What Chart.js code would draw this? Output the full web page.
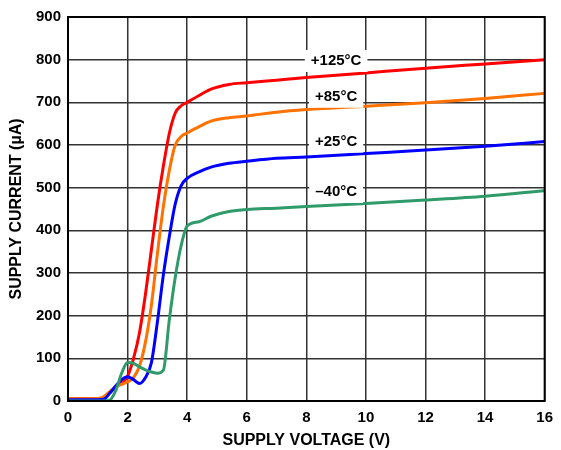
<!DOCTYPE html>
<html lang="en">
<head>
  <meta charset="UTF-8" />
  <title>Supply Current vs Supply Voltage</title>
  <script src="https://cdn.jsdelivr.net/npm/chart.js"></script>
  <style>
    body { margin: 0; background: #fff; }
    .wrap { width: 561px; height: 450px; }
  </style>
</head>
<body>
  <div class="wrap">
    <canvas id="chartCurrent" width="561" height="450"></canvas>
  </div>

  <script>
    // supply voltage (V), shared by all curves
    const voltage = [0, 1.0, 1.2, 1.4, 1.6, 1.8, 2.0, 2.2, 2.4, 2.6, 2.8, 3.0, 3.2, 3.4, 3.6, 3.8, 4.0, 4.4, 4.8, 5.4, 6, 7, 8, 10, 12, 14, 16];

    // supply current (uA) per temperature
    const i125 = [5, 5, 8, 20, 33, 43, 58, 100, 160, 250, 355, 460, 550, 627, 675, 692, 700, 716, 731, 742, 746, 752, 758, 769, 780, 790, 800];
    const i85  = [5, 6, 10, 22, 33, 39, 45, 55, 82, 138, 225, 345, 455, 540, 600, 620, 628, 643, 656, 664, 668, 677, 683, 691, 699, 709, 721];
    const i25  = [3, 3, 4, 18, 35, 50, 57, 50, 41, 55, 90, 185, 295, 385, 462, 505, 522, 537, 548, 557, 562, 569, 572, 580, 588, 597, 608];
    const iM40 = [0, 0, 0, 2, 24, 65, 90, 88, 80, 73, 68, 65, 72, 190, 290, 365, 410, 420, 433, 444, 449, 452, 456, 463, 471, 480, 493];

    const xTicks = [0, 2, 4, 6, 8, 10, 12, 14, 16];
    const yTicks = [0, 100, 200, 300, 400, 500, 600, 700, 800, 900];

    const curveNames = ['+125°C', '+85°C', '+25°C', '\u201340°C'];
    // where each curve name sits (V, uA)
    const nameAtV = [9, 9, 9, 9];
    const nameAtI = [797, 713, 608, 490];

    const FONT = "'Liberation Sans', Arial, sans-serif";

    function pts(ys) {
      return voltage.map((v, k) => ({ x: v, y: ys[k] }));
    }

    function serie(ys, color) {
      return {
        data: pts(ys),
        borderColor: color,
        borderWidth: 3,
        pointRadius: 0,
        fill: false,
        cubicInterpolationMode: 'monotone'
      };
    }

    const frameAndNames = {
      id: 'frameAndNames',
      afterDatasetsDraw(chart) {
        const ctx = chart.ctx;
        const xs = chart.scales.x, ys = chart.scales.y;
        ctx.save();
        ctx.font = 'bold 15px ' + FONT;
        ctx.textAlign = 'center';
        ctx.textBaseline = 'middle';
        curveNames.forEach((t, k) => {
          const cx = xs.getPixelForValue(nameAtV[k]);
          const cy = ys.getPixelForValue(nameAtI[k]);
          const w = ctx.measureText(t).width + 12;
          ctx.fillStyle = '#fff';
          ctx.fillRect(cx - w / 2, cy - 11, w, 22);
          ctx.fillStyle = '#000';
          ctx.fillText(t, cx, cy);
        });
        const a = chart.chartArea;
        ctx.strokeStyle = '#000';
        ctx.lineWidth = 2;
        ctx.strokeRect(a.left, a.top, a.right - a.left, a.bottom - a.top);
        ctx.restore();
      }
    };

    new Chart(document.getElementById('chartCurrent').getContext('2d'), {
      type: 'line',
      data: {
        datasets: [
          serie(iM40, '#2f9a6a'),
          serie(i25, '#0000ff'),
          serie(i85, '#ff7100'),
          serie(i125, '#ff0000')
        ]
      },
      options: {
        responsive: false,
        animation: false,
        layout: { padding: { left: 0, top: 17, right: 14, bottom: 0 } },
        plugins: { legend: { display: false }, tooltip: { enabled: false } },
        scales: {
          x: {
            type: 'linear',
            min: 0, max: 16,
            afterBuildTicks: s => { s.ticks = xTicks.map(v => ({ value: v })); },
            afterFit: s => { s.height = 49; },
            grid: { color: '#333', lineWidth: 1.5, drawTicks: false },
            border: { display: false },
            ticks: { color: '#000', padding: 8, font: { family: FONT, size: 15, weight: 'bold' } },
            title: {
              display: true, text: 'SUPPLY VOLTAGE (V)', color: '#000',
              padding: { top: 0, bottom: 0 },
              font: { family: FONT, size: 16, weight: 'bold' }
            }
          },
          y: {
            min: 0, max: 900,
            afterBuildTicks: s => { s.ticks = yTicks.map(v => ({ value: v })); },
            afterFit: s => { s.width = 68; },
            grid: { color: '#333', lineWidth: 1.5, drawTicks: false },
            border: { display: false },
            ticks: { color: '#000', padding: 7, font: { family: FONT, size: 15, weight: 'bold' } },
            title: {
              display: true, text: 'SUPPLY CURRENT (µA)', color: '#000',
              padding: { top: 7, bottom: 0 },
              font: { family: FONT, size: 16, weight: 'bold' }
            }
          }
        }
      },
      plugins: [frameAndNames]
    });
  </script>
</body>
</html>
